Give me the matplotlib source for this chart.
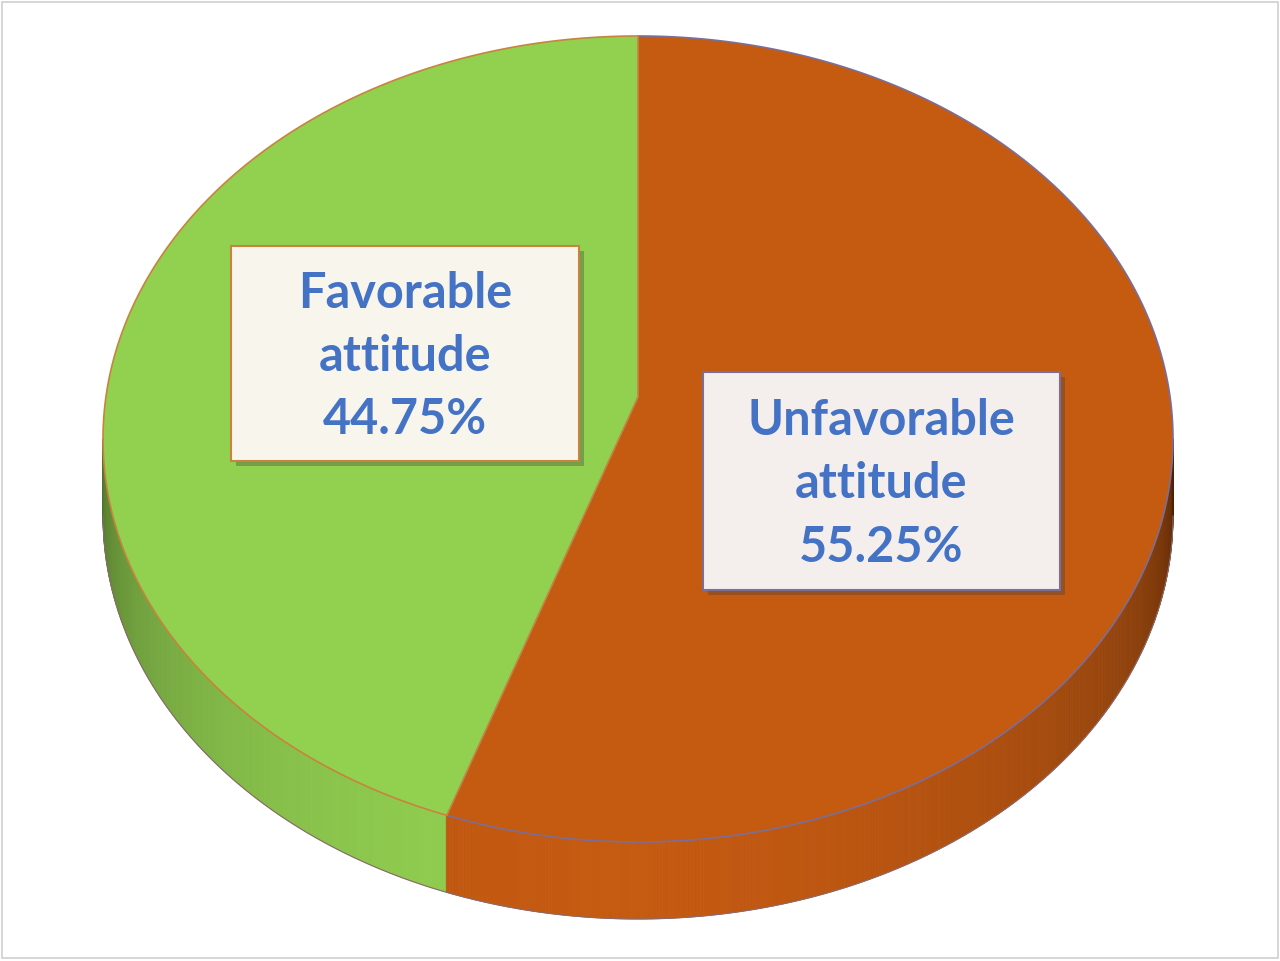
import numpy as np
import matplotlib.pyplot as plt
from matplotlib.patches import Rectangle, Polygon
from matplotlib.collections import PolyCollection
import matplotlib.colors as mcolors

# data
categories = ['Unfavorable attitude', 'Favorable attitude']
values = [55.25, 44.75]
colors = ['#C55A11', '#92D050']
edge_colors = ['#7b6e98', '#c8843c']
label_fill = ['#f4efed', '#f7f5ec']

# layout (pixels)
W, H = 1280, 962
cx, cy, rx, ry = 638, 440, 535, 403
apex_y = 398                      # where the pie centre shows up (perspective)
depth = 77 / ry
boxes = [(703, 373, 1060, 591), (231, 247, 579, 462)]

# perspective tilt: a boost that keeps the rim on the ellipse
th = (cy - apex_y) / ry
ch, sh = 1 / np.sqrt(1 - th ** 2), th / np.sqrt(1 - th ** 2)


def px(x, y):
    return (x - cx) / rx, (cy - y) / ry


def rim(phi):
    # phi in degrees, clockwise from 12 o'clock, on the real (round) pie
    p = np.radians(phi)
    d = np.cos(p) * sh + ch
    return np.sin(p) / d, (np.cos(p) * ch + sh) / d


def phi_of(x, y):
    d = -y * sh + ch
    return np.degrees(np.arctan2(x / d, (y * ch - sh) / d)) % 360


fig = plt.figure(figsize=(12.8, 9.62), dpi=100)
ax = fig.add_axes([0, 0, 1, 1])
ax.set_xlim(px(0, 0)[0], px(W, 0)[0])
ax.set_ylim(px(0, H)[1], px(0, 0)[1])
ax.axis('off')

bounds = np.concatenate([[0], np.cumsum(values) / np.sum(values) * 360])

# top face
for i in range(len(values)):
    phis = np.linspace(bounds[i], bounds[i + 1], 400)
    xs, ys = rim(phis)
    pts = [(0, th)] + list(zip(xs, ys))
    ax.add_patch(Polygon(pts, closed=True, facecolor=colors[i], edgecolor=edge_colors[i],
                         lw=1.2, zorder=5))


def wedge_index(phi):
    return min(np.searchsorted(bounds, phi, side='right') - 1, len(values) - 1)


# side wall of the 3d pie, shaded strip by strip
ts = np.linspace(180, 360, 541)
polys, fcs = [], []
for t1, t2 in zip(ts[:-1], ts[1:]):
    tm = np.radians((t1 + t2) / 2)
    a1, a2 = np.radians(t1), np.radians(t2)
    polys.append([(np.cos(a1), np.sin(a1)), (np.cos(a2), np.sin(a2)),
                  (np.cos(a2), np.sin(a2) - depth), (np.cos(a1), np.sin(a1) - depth)])
    s = max(0.0, -np.sin(tm))
    if np.cos(tm) > 0:
        shade = 0.42 + 0.58 * s ** 0.45 - 0.08 * np.cos(tm)
    else:
        shade = 0.5 + 0.5 * s ** 0.6
    k = wedge_index(phi_of(np.cos(tm), np.sin(tm)))
    base = np.array(mcolors.to_rgb(colors[k]))
    fcs.append(np.clip(base * shade, 0, 1))
side = PolyCollection(polys, facecolors=fcs, edgecolors=fcs, linewidths=0.6, zorder=2)
ax.add_collection(side)

# bottom rim
tt = np.radians(np.linspace(180, 360, 300))
ax.plot(np.cos(tt), np.sin(tt) - depth, color='#8a6a70', lw=0.8, zorder=3)

# labels
for (x0, y0, x1, y1), lab, val, fc, ec in zip(boxes, categories, values, label_fill, edge_colors):
    sx0, sy1 = px(x0 + 5, y1 + 5)
    sx1, sy0 = px(x1 + 5, y0 + 5)
    ax.add_patch(Rectangle((sx0, sy1), sx1 - sx0, sy0 - sy1, facecolor='#404040',
                           alpha=0.35, edgecolor='none', zorder=6))
    bx0, by1 = px(x0, y1)
    bx1, by0 = px(x1, y0)
    ax.add_patch(Rectangle((bx0, by1), bx1 - bx0, by0 - by1, facecolor=fc,
                           edgecolor=ec, lw=1.5, zorder=7))
    words = lab.split(' ')
    txt = f'{words[0]}\n{words[1]}\n{val:.2f}%'
    tx, ty = px((x0 + x1) / 2, (y0 + y1) / 2 + 2)
    ax.text(tx, ty, txt, ha='center', va='center', multialignment='center',
            fontfamily='Lato', fontweight='bold', fontsize=35, color='#4472C4',
            linespacing=1.5, zorder=8)

fig.add_artist(Rectangle((2 / W, 3 / H), 1276 / W, 956 / H, transform=fig.transFigure,
                         fill=False, edgecolor='#d0d0d0', lw=1.2))

fig.savefig('out.png', dpi=100, facecolor='white')
